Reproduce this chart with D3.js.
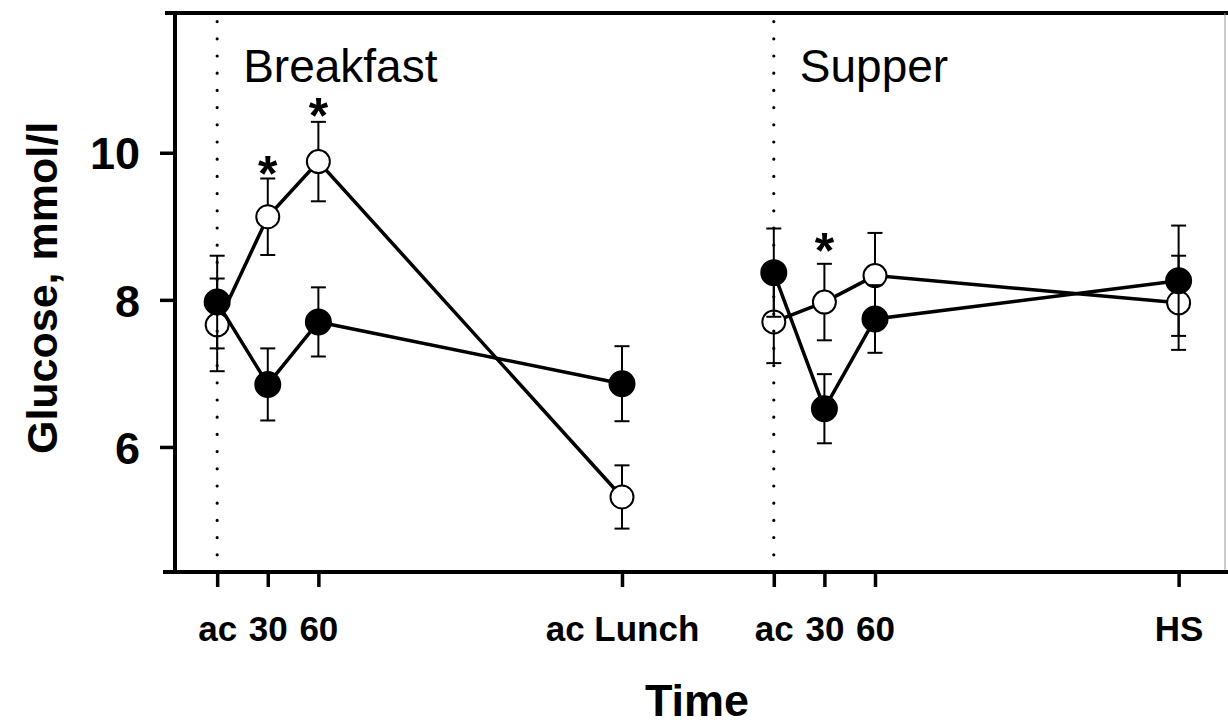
<!DOCTYPE html>
<html>
<head>
<meta charset="utf-8">
<script src="https://cdn.jsdelivr.net/npm/d3@7"></script>
<style>
  html, body { margin: 0; padding: 0; background: #fff; }
  svg { display: block; font-family: "Liberation Sans", Arial, Helvetica, sans-serif; }
</style>
</head>
<body>
<svg id="chart" width="1228" height="726"></svg>
<script>
// minutes from breakfast "ac"
const times = [0, 30, 60, 240, 330, 360, 390, 570];
const tickLabels = ["ac", "30", "60", "ac Lunch", "ac", "30", "60", "HS"];
const meal = [0, 0, 0, 0, 1, 1, 1, 1];

const openMean = [7.66, 9.13, 9.88, 5.32, 7.70, 7.97, 8.33, 7.96];
const openErr = [0.63, 0.52, 0.54, 0.43, 0.56, 0.52, 0.58, 0.64];
const filledMean = [7.97, 6.85, 7.70, 6.86, 8.37, 6.52, 7.74, 8.26];
const filledErr = [0.63, 0.49, 0.47, 0.51, 0.60, 0.47, 0.46, 0.75];

const starTimes = [30, 60, 360];
const starValues = [9.86, 10.65, 8.81];

const mealNames = ["Breakfast", "Supper"];
const mealStart = [0, 330];

const yTicks = [6, 8, 10];

const plotLeft = 175, plotRight = 1225, plotTop = 13, plotBottom = 572;

const svg = d3.select("#chart");

const x = d3.scaleLinear().domain([-25, 597.5]).range([plotLeft, plotRight]);
const y = d3.scaleLinear().domain([4.3, 11.9]).range([plotBottom, plotTop]);

// frame: top line and faint right edge
svg.append("line")
  .attr("x1", 165).attr("x2", 1228)
  .attr("y1", plotTop).attr("y2", plotTop)
  .attr("stroke", "#000").attr("stroke-width", 4);
svg.append("line")
  .attr("x1", plotRight).attr("x2", plotRight)
  .attr("y1", plotTop).attr("y2", plotBottom)
  .attr("stroke", "#999").attr("stroke-width", 1);

// axes
const xAxis = d3.axisBottom(x)
  .tickValues(times)
  .tickFormat((d, i) => tickLabels[i])
  .tickSize(15)
  .tickSizeOuter(0);

const gx = svg.append("g")
  .attr("transform", `translate(0,${plotBottom})`)
  .call(xAxis);
gx.select(".domain").remove();
gx.selectAll(".tick line").attr("stroke", "#000").attr("stroke-width", 3.5);
gx.selectAll("text")
  .attr("y", 69).attr("dy", null)
  .attr("fill", "#000")
  .style("font-size", "35px").style("font-weight", "bold")
  .style("font-family", "'Liberation Sans', Arial, sans-serif");
gx.append("line")
  .attr("x1", 163).attr("x2", 1228)
  .attr("stroke", "#000").attr("stroke-width", 4);

const yAxis = d3.axisLeft(y)
  .tickValues(yTicks)
  .tickSize(15)
  .tickSizeOuter(0);

const gy = svg.append("g")
  .attr("transform", `translate(${plotLeft},0)`)
  .call(yAxis);
gy.select(".domain").remove();
gy.selectAll(".tick line").attr("stroke", "#000").attr("stroke-width", 3.5);
gy.selectAll("text")
  .attr("x", -35).attr("dy", "0.36em")
  .attr("fill", "#000")
  .style("font-size", "45px").style("font-weight", "bold")
  .style("font-family", "'Liberation Sans', Arial, sans-serif");
gy.append("line")
  .attr("y1", plotTop - 2).attr("y2", plotBottom + 2)
  .attr("stroke", "#000").attr("stroke-width", 4);

// axis titles
svg.append("text")
  .attr("x", 697).attr("y", 716)
  .attr("text-anchor", "middle")
  .style("font-size", "45px").style("font-weight", "bold")
  .text("Time");

svg.append("text")
  .attr("transform", "translate(57,288) rotate(-90)")
  .attr("text-anchor", "middle")
  .style("font-size", "43px").style("font-weight", "bold")
  .text("Glucose, mmol/l");

// meal names
svg.selectAll(".meal")
  .data(mealNames)
  .enter()
  .append("text")
  .attr("class", "meal")
  .attr("x", (d, i) => x(mealStart[i]) + 26)
  .attr("y", 82)
  .style("font-size", "46px")
  .text(d => d);

function drawSeries(mean, err, fill) {
  const pts = times.map((t, i) => ({t: t, v: mean[i], e: err[i], m: meal[i]}));
  const line = d3.line().x(d => x(d.t)).y(d => y(d.v));
  const g = svg.append("g");

  d3.groups(pts, d => d.m).forEach(([m, seg]) => {
    g.append("path")
      .attr("d", line(seg))
      .attr("fill", "none")
      .attr("stroke", "#000")
      .attr("stroke-width", 3.5);
  });

  const eb = g.selectAll(".err")
    .data(pts)
    .enter()
    .append("g");
  eb.append("line")
    .attr("x1", d => x(d.t)).attr("x2", d => x(d.t))
    .attr("y1", d => y(d.v + d.e)).attr("y2", d => y(d.v - d.e))
    .attr("stroke", "#000").attr("stroke-width", 2);
  eb.append("line")
    .attr("x1", d => x(d.t) - 7.5).attr("x2", d => x(d.t) + 7.5)
    .attr("y1", d => y(d.v + d.e)).attr("y2", d => y(d.v + d.e))
    .attr("stroke", "#000").attr("stroke-width", 2);
  eb.append("line")
    .attr("x1", d => x(d.t) - 7.5).attr("x2", d => x(d.t) + 7.5)
    .attr("y1", d => y(d.v - d.e)).attr("y2", d => y(d.v - d.e))
    .attr("stroke", "#000").attr("stroke-width", 2);

  g.selectAll("circle")
    .data(pts)
    .enter()
    .append("circle")
    .attr("cx", d => x(d.t))
    .attr("cy", d => y(d.v))
    .attr("r", fill ? 12.5 : 11.5)
    .attr("fill", fill ? "#000" : "#fff")
    .attr("stroke", "#000")
    .attr("stroke-width", 2);
}

drawSeries(openMean, openErr, false);
drawSeries(filledMean, filledErr, true);

// dotted markers at meal start
svg.selectAll(".dots")
  .data(mealStart)
  .enter()
  .append("line")
  .attr("x1", d => x(d)).attr("x2", d => x(d))
  .attr("y1", plotBottom).attr("y2", 18)
  .attr("stroke", "#000")
  .attr("stroke-width", 3.2)
  .attr("stroke-linecap", "round")
  .attr("stroke-dasharray", "0 17.2");

// significance stars
svg.selectAll(".star")
  .data(starTimes)
  .enter()
  .append("text")
  .attr("x", d => x(d))
  .attr("y", (d, i) => y(starValues[i]) + 28)
  .attr("text-anchor", "middle")
  .style("font-size", "50px").style("font-weight", "bold")
  .text("*");
</script>
</body>
</html>
